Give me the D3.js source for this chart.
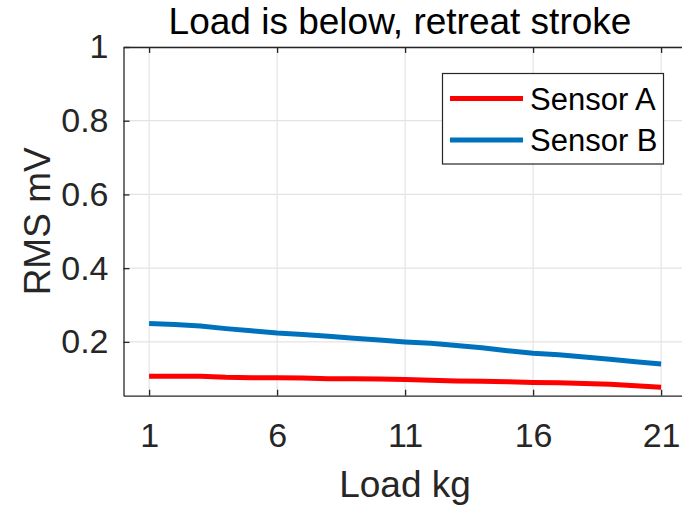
<!DOCTYPE html>
<html>
<head>
<meta charset="utf-8">
<script src="https://cdn.jsdelivr.net/npm/d3@7"></script>
<style>
  html, body { margin: 0; padding: 0; background: #fff; }
  svg { display: block; font-family: "Liberation Sans", Arial, sans-serif; }
</style>
</head>
<body>
<svg id="chart" width="682" height="508"></svg>
<script>
const loads = [1,2,3,4,5,6,7,8,9,10,11,12,13,14,15,16,17,18,19,20,21];
const sensorA = [0.107,0.107,0.107,0.104,0.103,0.103,0.102,0.100,0.100,0.099,0.098,0.096,0.094,0.093,0.092,0.090,0.089,0.087,0.085,0.081,0.077];
const sensorB = [0.250,0.247,0.243,0.236,0.230,0.224,0.220,0.215,0.210,0.205,0.200,0.196,0.190,0.184,0.176,0.169,0.165,0.159,0.153,0.146,0.140];
const seriesNames = ["Sensor A", "Sensor B"];
const seriesColors = ["#ff0000", "#0072bd"];
const xTicks = [1, 6, 11, 16, 21];
const yTicks = [0.2, 0.4, 0.6, 0.8, 1];
const titleText = "Load is below, retreat stroke";
const xLabel = "Load kg";
const yLabel = "RMS mV";

const svg = d3.select("#chart");
const pLeft = 123.5, pRight = 686.7, pTop = 47, pBottom = 395.7;
const x = d3.scaleLinear().domain([0, 22]).range([pLeft, pRight]);
const y = d3.scaleLinear().domain([0.054, 1]).range([pBottom, pTop]);

// grid
const grid = svg.append("g");
grid.selectAll("line.gx").data(xTicks).enter().append("line")
  .attr("x1", d => x(d)).attr("x2", d => x(d)).attr("y1", pTop).attr("y2", pBottom)
  .attr("stroke", "#e3e3e3").attr("stroke-width", 1.2);
grid.selectAll("line.gy").data(yTicks).enter().append("line")
  .attr("x1", pLeft).attr("x2", pRight).attr("y1", d => y(d)).attr("y2", d => y(d))
  .attr("stroke", "#e3e3e3").attr("stroke-width", 1.2);

// lines
const series = [sensorA, sensorB];
const line = d3.line().x((d, i) => x(loads[i])).y(d => y(d));
series.forEach((s, k) => {
  svg.append("path").datum(s).attr("d", line)
    .attr("fill", "none").attr("stroke", seriesColors[k]).attr("stroke-width", 5)
    .attr("stroke-linejoin", "round");
});

// axes
const tickFont = 34;
const xAxis = d3.axisBottom(x).tickValues(xTicks).tickSizeInner(-6).tickSizeOuter(0).tickPadding(27);
const gx = svg.append("g").attr("transform", `translate(0,${pBottom})`).call(xAxis);
gx.selectAll("text").attr("font-size", tickFont).attr("fill", "#262626")
  .attr("font-family", "Liberation Sans, Arial, sans-serif");
const xAxisTop = d3.axisTop(x).tickValues(xTicks).tickSizeInner(-6).tickSizeOuter(0).tickFormat("");
svg.append("g").attr("transform", `translate(0,${pTop})`).call(xAxisTop);

const yAxis = d3.axisLeft(y).tickValues(yTicks).tickSizeInner(-6).tickSizeOuter(0).tickPadding(15)
  .tickFormat(d => d === 1 ? "1" : d3.format(".1f")(d));
const gy = svg.append("g").attr("transform", `translate(${pLeft},0)`).call(yAxis);
gy.selectAll("text").attr("font-size", tickFont).attr("fill", "#262626")
  .attr("font-family", "Liberation Sans, Arial, sans-serif");

svg.selectAll(".domain").attr("stroke", "#262626").attr("stroke-width", 1.3);
svg.selectAll(".tick line").attr("stroke", "#262626").attr("stroke-width", 1.3);

// labels
svg.append("text").attr("x", 400).attr("y", 34).attr("text-anchor", "middle")
  .attr("font-size", 37).attr("fill", "#000").text(titleText);
svg.append("text").attr("x", 405).attr("y", 497).attr("text-anchor", "middle")
  .attr("font-size", 37).attr("fill", "#262626").text(xLabel);
svg.append("text").attr("transform", `translate(50,${(pTop + pBottom) / 2}) rotate(-90)`)
  .attr("text-anchor", "middle").attr("font-size", 37).attr("fill", "#262626").text(yLabel);

// legend
const lg = svg.append("g");
lg.append("rect").attr("x", 442.5).attr("y", 73.5).attr("width", 221).attr("height", 90.5)
  .attr("fill", "#fff").attr("stroke", "#262626").attr("stroke-width", 1.2);
seriesNames.forEach((n, k) => {
  const ly = 98.5 + k * 41.5;
  lg.append("line").attr("x1", 450).attr("x2", 523).attr("y1", ly).attr("y2", ly)
    .attr("stroke", seriesColors[k]).attr("stroke-width", 5);
  lg.append("text").attr("x", 530).attr("y", ly + 11).attr("font-size", 31).attr("fill", "#000").text(n);
});
</script>
</body>
</html>
